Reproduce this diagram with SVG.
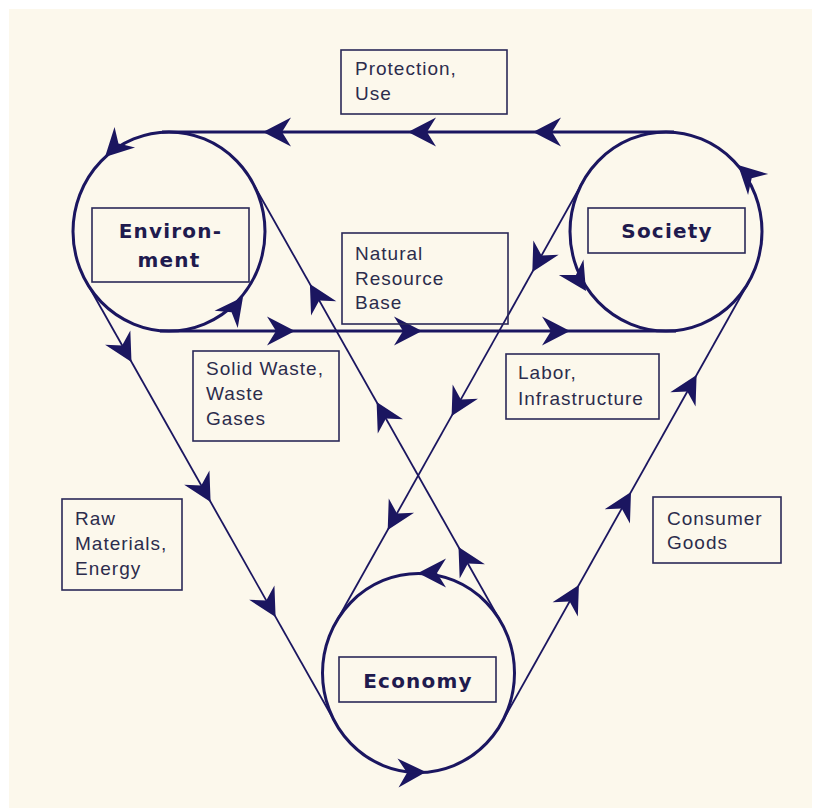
<svg xmlns="http://www.w3.org/2000/svg" xmlns:xlink="http://www.w3.org/1999/xlink" width="821" height="812" viewBox="0 0 821 812">
  <style>
    .ring { fill: none; stroke: #1b1660; stroke-width: 3; }
    .belt { stroke: #1b1660; stroke-width: 3; fill: none; }
    .diag { stroke: #1b1660; stroke-width: 1.8; fill: none; }
    .box { fill: none; stroke: #2a2858; stroke-width: 1.6; }
    .lbl { font-family: "Liberation Sans", Arial, sans-serif; font-size: 19px; letter-spacing: 1px; fill: #2c2c4c; }
    .name { font-family: "DejaVu Sans", Verdana, sans-serif; font-size: 20px; font-weight: bold; letter-spacing: 1.2px; fill: #1f1b4e; text-anchor: middle; }
    .ah { fill: #1b1660; }
  </style>
  <defs>
    <path id="ah" class="ah" d="M0,0 L-28,-14.5 L-19,0 L-28,14.5 Z"/>
  </defs>
  <rect x="0" y="0" width="821" height="812" fill="#ffffff"/>
  <rect x="9" y="9" width="803" height="799" fill="#fcf8ec"/>

  <g id="connectors">
    <!-- Environment - Society belt -->
    <line class="belt" x1="162" y1="132" x2="674" y2="132"/>
    <line class="belt" x1="160" y1="331" x2="676" y2="331"/>
    <!-- Environment - Economy belt -->
    <line class="diag" x1="86.2" y1="281.8" x2="335.7" y2="723.3"/>
    <line class="diag" x1="251.8" y1="181.2" x2="501.3" y2="622.7"/>
    <!-- Society - Economy belt -->
    <line class="diag" x1="749" y1="281.5" x2="501.5" y2="723"/>
    <line class="diag" x1="583" y1="181.5" x2="335.5" y2="623"/>

    <!-- arrowheads: Protection, Use -->
    <use href="#ah" transform="translate(263,132) rotate(180)"/>
    <use href="#ah" transform="translate(408,132) rotate(180)"/>
    <use href="#ah" transform="translate(533,132) rotate(180)"/>
    <!-- Natural Resource Base -->
    <use href="#ah" transform="translate(295,331)"/>
    <use href="#ah" transform="translate(422,331)"/>
    <use href="#ah" transform="translate(570,331)"/>
    <!-- Raw Materials, Energy -->
    <use href="#ah" transform="translate(131.5,362) rotate(60.5)"/>
    <use href="#ah" transform="translate(210.6,502) rotate(60.5)"/>
    <use href="#ah" transform="translate(275.6,617) rotate(60.5)"/>
    <!-- Solid Waste, Waste Gases -->
    <use href="#ah" transform="translate(309.9,284) rotate(240.5)"/>
    <use href="#ah" transform="translate(376.6,402) rotate(240.5)"/>
    <use href="#ah" transform="translate(458.5,547) rotate(240.5)"/>
    <!-- Labor, Infrastructure -->
    <use href="#ah" transform="translate(532.3,272) rotate(119.3)"/>
    <use href="#ah" transform="translate(451.6,416) rotate(119.3)"/>
    <use href="#ah" transform="translate(387.7,530) rotate(119.3)"/>
    <!-- Consumer Goods -->
    <use href="#ah" transform="translate(696.6,375) rotate(-60.7)"/>
    <use href="#ah" transform="translate(631,492) rotate(-60.7)"/>
    <use href="#ah" transform="translate(578.9,585) rotate(-60.7)"/>
    <!-- on the rings -->
    <use href="#ah" transform="translate(105,157) rotate(135)"/>
    <use href="#ah" transform="translate(243,297) rotate(-53)"/>
    <use href="#ah" transform="translate(738,165) rotate(-136)"/>
    <use href="#ah" transform="translate(586,291) rotate(58)"/>
    <use href="#ah" transform="translate(418,573) rotate(180)"/>
    <use href="#ah" transform="translate(426,772) rotate(-2)"/>
  </g>

  <g id="environment">
    <ellipse class="ring" cx="169" cy="231.5" rx="96" ry="99.5"/>
    <rect class="box" x="92" y="208" width="157" height="74"/>
    <text class="name" x="170.5" y="238">Environ-</text>
    <text class="name" x="169" y="267">ment</text>
  </g>

  <g id="society">
    <ellipse class="ring" cx="666" cy="231.5" rx="96" ry="99.5"/>
    <rect class="box" x="588" y="208" width="157" height="45"/>
    <text class="name" x="667" y="238">Society</text>
  </g>

  <g id="economy">
    <ellipse class="ring" cx="418.5" cy="673" rx="96" ry="99.5"/>
    <rect class="box" x="339" y="657" width="157" height="45"/>
    <text class="name" x="418" y="688">Economy</text>
  </g>

  <g id="label-protection">
    <rect class="box" x="341" y="50" width="166" height="64"/>
    <text class="lbl" x="355" y="75">Protection,</text>
    <text class="lbl" x="355" y="100">Use</text>
  </g>

  <g id="label-natural">
    <rect class="box" x="342" y="233" width="166" height="91"/>
    <text class="lbl" x="355" y="260">Natural</text>
    <text class="lbl" x="355" y="285">Resource</text>
    <text class="lbl" x="355" y="309">Base</text>
  </g>

  <g id="label-waste">
    <rect class="box" x="193" y="351" width="146" height="90"/>
    <text class="lbl" x="206" y="375">Solid Waste,</text>
    <text class="lbl" x="206" y="400">Waste</text>
    <text class="lbl" x="206" y="425">Gases</text>
  </g>

  <g id="label-labor">
    <rect class="box" x="506" y="354" width="153" height="65"/>
    <text class="lbl" x="518" y="379">Labor,</text>
    <text class="lbl" x="518" y="405">Infrastructure</text>
  </g>

  <g id="label-consumer">
    <rect class="box" x="653" y="497" width="128" height="66"/>
    <text class="lbl" x="667" y="525">Consumer</text>
    <text class="lbl" x="667" y="549">Goods</text>
  </g>

  <g id="label-raw">
    <rect class="box" x="62" y="499" width="120" height="91"/>
    <text class="lbl" x="75" y="525">Raw</text>
    <text class="lbl" x="75" y="550">Materials,</text>
    <text class="lbl" x="75" y="575">Energy</text>
  </g>
</svg>
